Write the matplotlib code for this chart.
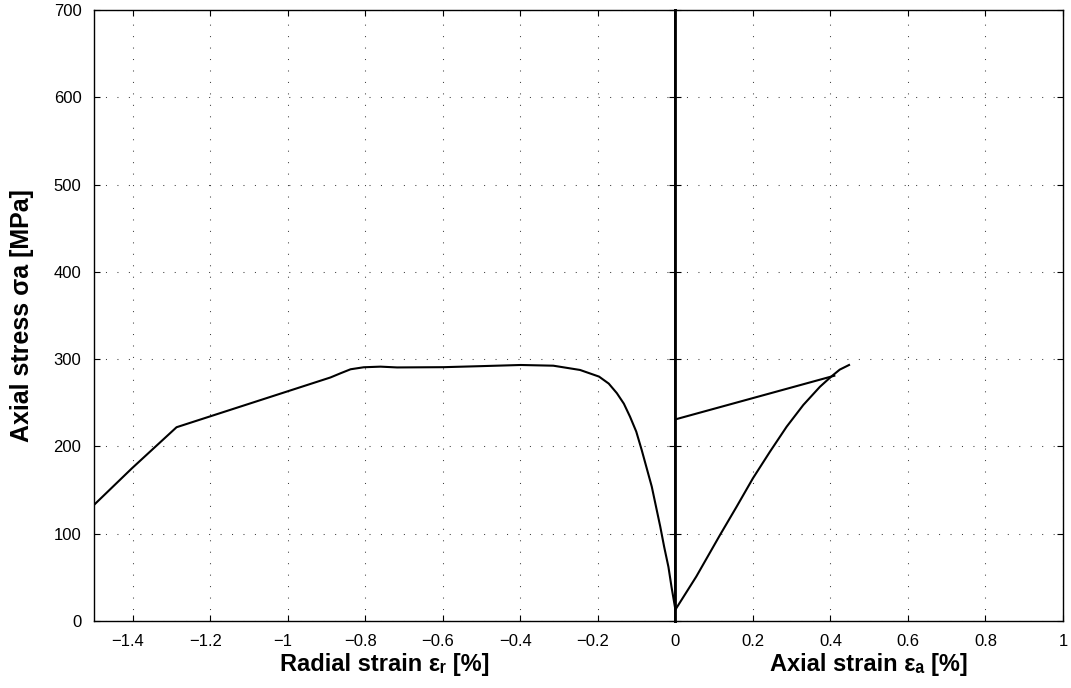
import numpy as np
import matplotlib.pyplot as plt
from matplotlib.transforms import ScaledTranslation

# radial strain branch (left half)
radial_strain = [-1.5, -1.402, -1.287, -0.89, -0.864, -0.838, -0.804, -0.761, -0.718,
                 -0.598, -0.50, -0.399, -0.315, -0.246, -0.197, -0.172, -0.151,
                 -0.133, -0.117, -0.101, -0.087, -0.074, -0.061, -0.050, -0.039,
                 -0.029, -0.018, -0.010, 0.0]
radial_stress = [133, 175, 222, 279, 283.8, 288.4, 290.7, 291.4, 290.5,
                 290.8, 292, 293.3, 292.5, 287.6, 280, 272, 261,
                 249, 234, 217, 196, 175, 154, 131, 108,
                 85, 62, 39, 13]

# axial strain branch (right half)
axial_strain = [0.0, 0.054, 0.115, 0.158, 0.20, 0.244, 0.287, 0.330, 0.373, 0.402, 0.424, 0.448]
axial_stress = [13, 51, 98.5, 131, 163.5, 194, 222.6, 247.5, 268.4, 280, 288, 293.3]

# straight line from the stress axis to the curve
line_strain = [0.0, 0.41]
line_stress = [231, 281]

rad_ticks = [-1.4, -1.2, -1, -0.8, -0.6, -0.4, -0.2]
ax_ticks = [0, 0.2, 0.4, 0.6, 0.8, 1]
stress_ticks = [0, 100, 200, 300, 400, 500, 600, 700]


def fmt(v):
    return f"{v:g}".replace("-", "\u2212")


plt.rcParams["font.family"] = ["Liberation Sans", "DejaVu Sans"]

fig = plt.figure(figsize=(10.71, 6.88), dpi=100)
L, R = 94 / 1071, 1063 / 1071
B, T = 1 - 621 / 688, 1 - 10 / 688
W = R - L
w1 = W * 1.5 / 2.5
w2 = W * 1.0 / 2.5

ax1 = fig.add_axes([L, B, w1, T - B])
ax2 = fig.add_axes([L + w1, B, w2, T - B])

grid_style = dict(color="0.25", linewidth=0.75, linestyle=(0, (1, 10)))
label_font = dict(fontsize=17, fontweight="bold")

for ax in (ax1, ax2):
    ax.set_ylim(0, 700)
    ax.set_yticks(stress_ticks)
    ax.grid(True, **grid_style)
    ax.tick_params(direction="in", top=True, right=True, length=4, width=0.8,
                   labelsize=12, pad=9)
    for s in ax.spines.values():
        s.set_linewidth(1.0)

# the shared edge at zero strain reads as a heavier line
ax1.spines["right"].set_linewidth(2.0)
ax2.spines["left"].set_linewidth(2.0)

ax1.plot(radial_strain, radial_stress, color="black", lw=1.5)
ax1.set_xlim(-1.5, 0)
ax1.set_xticks(rad_ticks)
ax1.set_xticklabels([fmt(v) for v in rad_ticks])
ax1.set_yticklabels([fmt(v) for v in stress_ticks])
ax1.set_ylabel("Axial stress \u03c3a [MPa]", fontsize=18, fontweight="bold", labelpad=14)
ax1.set_xlabel("Radial strain \u03b5\u1d63 [%]", labelpad=3, **label_font)

# digits centred under the tick, minus sign hanging to the left
shift = ScaledTranslation(-3.5 / 72, 0, fig.dpi_scale_trans)
for lab in ax1.get_xticklabels():
    lab.set_transform(lab.get_transform() + shift)

ax2.plot(axial_strain, axial_stress, color="black", lw=1.5)
ax2.plot(line_strain, line_stress, color="black", lw=1.5)
ax2.set_xlim(0, 1)
ax2.set_xticks(ax_ticks)
ax2.set_xticklabels([fmt(v) for v in ax_ticks])
ax2.tick_params(labelleft=False)
ax2.set_xlabel("Axial strain \u03b5\u2090 [%]", labelpad=3, **label_font)

fig.savefig("out.png", dpi=100)
